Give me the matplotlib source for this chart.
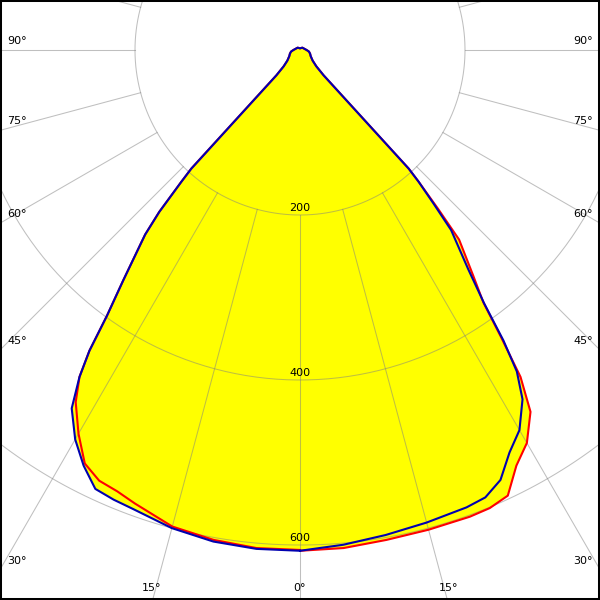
import numpy as np
import matplotlib
matplotlib.use("Agg")
import matplotlib.pyplot as plt

# gamma angles (deg from nadir) shared by all four half-planes
gamma = [0, 5, 10, 15, 20, 22.5, 25, 27.5, 30, 32.5, 34, 35, 36, 37.5, 40,
         41, 42, 42.5, 43, 45, 50, 60, 70, 80, 90, 135, 180]

# luminous intensity (cd)
red_right = [607, 606, 603, 602, 602, 601, 596, 568, 550, 520, 478, 425, 378, 345, 300,
             255, 215, 195, 42, 28, 20, 15, 13, 11, 8, 4, 2]
red_left = [606, 606, 603, 598, 585, 579, 576, 565, 537, 506, 478, 445, 398, 352, 292,
            260, 215, 195, 42, 28, 20, 15, 13, 11, 8, 4, 2]
blue_right = [607, 602, 597, 593, 590, 587, 575, 550, 532, 502, 470, 430, 380, 335, 285,
              247, 215, 195, 42, 28, 20, 15, 13, 11, 8, 4, 2]
blue_left = [607, 607, 605, 600, 592, 590, 587, 568, 545, 515, 478, 445, 398, 352, 292,
             260, 215, 195, 42, 28, 20, 15, 13, 11, 8, 4, 2]

rings = [200, 400, 600, 800]
spokes = list(range(0, 360, 15))
side_labels = [15, 30, 45, 60, 75, 90]

k = 165 / 200.0  # pixels per cd
xmax = 300 / k
ytop = 50 / k
ybot = -550 / k


def to_xy(ang, val, side):
    t = np.radians(ang)
    v = np.array(val, dtype=float)
    return side * v * np.sin(t), -v * np.cos(t)


def closed(right, left):
    xr, yr = to_xy(gamma, right, 1)
    xl, yl = to_xy(gamma, left, -1)
    return np.concatenate([xr, xl[::-1]]), np.concatenate([yr, yl[::-1]])


fig = plt.figure(figsize=(6, 6), dpi=100)
ax = fig.add_axes([0, 0, 1, 1])

rx, ry = closed(red_right, red_left)
bx, by = closed(blue_right, blue_left)
ax.fill(rx, ry, color="#ffff00", lw=0, zorder=1)
ax.fill(bx, by, color="#ffff00", lw=0, zorder=1)

# grid
gc = "#808080"
tt = np.linspace(0, 2 * np.pi, 400)
for r in rings:
    ax.plot(r * np.sin(tt), r * np.cos(tt), color=gc, alpha=0.5, lw=0.75, zorder=2)
for a in spokes:
    t = np.radians(a)
    ax.plot([200 * np.sin(t), 1200 * np.sin(t)], [-200 * np.cos(t), -1200 * np.cos(t)],
            color=gc, alpha=0.5, lw=0.75, zorder=2)

ax.plot(rx, ry, color="#ff0000", lw=1.5, zorder=3)
ax.plot(bx, by, color="#0000b0", lw=1.5, zorder=4)

# ring labels
for r in rings[:3]:
    ax.text(0, -r + 7 / k, str(r), ha="center", va="center", fontsize=8, zorder=5)

# angle labels where the spokes leave the frame
fs = 8
ax.text(0, ybot + 12 / k, "0°", ha="center", va="center", fontsize=fs, zorder=5)
for a in side_labels:
    t = np.radians(a)
    tx = xmax / np.sin(t)
    ty = -ybot / np.cos(t) if a < 90 else np.inf
    for side in (-1, 1):
        if tx < ty:
            yline = -tx * np.cos(t)
            ax.text(side * (xmax - 17 / k), yline + 9 / k, "%d°" % a,
                    ha="center", va="center", fontsize=fs, zorder=5)
        else:
            ylab = ybot + 12 / k
            xline = -ylab * np.tan(t)
            ax.text(side * (xline + 4 / k), ylab, "%d°" % a,
                    ha="center", va="center", fontsize=fs, zorder=5)

ax.set_xlim(-xmax, xmax)
ax.set_ylim(ybot, ytop)
ax.set_xticks([])
ax.set_yticks([])
for s in ax.spines.values():
    s.set_linewidth(2.9)
    s.set_color("black")

fig.savefig("out.png", dpi=100)
